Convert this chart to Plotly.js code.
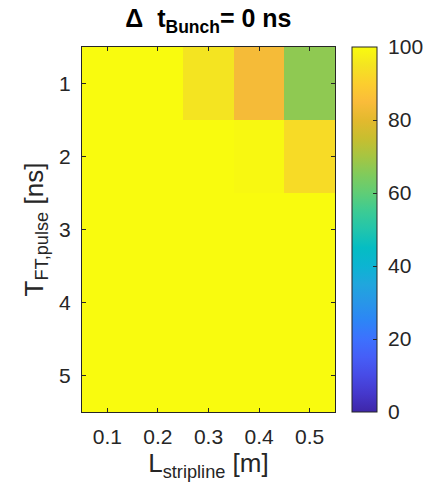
<!DOCTYPE html>
<html>
<head>
<meta charset="utf-8">
<script src="https://cdn.plot.ly/plotly-3.0.1.min.js"></script>
<style>html,body{margin:0;padding:0;background:#fff;}#chart{width:428px;height:490px;}</style>
</head>
<body>
<div id="chart"></div>
<script>
// Data
const stripLength = [0.1, 0.2, 0.3, 0.4, 0.5];   // L_stripline [m]
const pulseLength = [1, 2, 3, 4, 5];             // T_FT,pulse [ns]
const row1 = [100, 100, 95, 84, 67];
const row2 = [100, 100, 100, 99.3, 93];
const row3 = [100, 100, 100, 100, 100];
const row4 = [100, 100, 100, 100, 100];
const row5 = [100, 100, 100, 100, 100];
const xTickLabels = ['0.1', '0.2', '0.3', '0.4', '0.5'];
const yTickLabels = ['1', '2', '3', '4', '5'];
const cbTicks = [0, 20, 40, 60, 80, 100];

// MATLAB parula (approximation)
const parula = [
  [0.00, 'rgb(62,38,168)'],
  [0.05, 'rgb(69,56,204)'],
  [0.10, 'rgb(71,75,230)'],
  [0.15, 'rgb(70,94,247)'],
  [0.20, 'rgb(61,113,254)'],
  [0.25, 'rgb(45,133,246)'],
  [0.30, 'rgb(40,150,232)'],
  [0.35, 'rgb(32,166,221)'],
  [0.40, 'rgb(12,180,210)'],
  [0.45, 'rgb(5,189,195)'],
  [0.50, 'rgb(34,197,172)'],
  [0.55, 'rgb(60,203,148)'],
  [0.60, 'rgb(96,205,118)'],
  [0.65, 'rgb(128,203,92)'],
  [0.70, 'rgb(166,197,66)'],
  [0.75, 'rgb(200,190,47)'],
  [0.80, 'rgb(227,185,46)'],
  [0.85, 'rgb(250,188,58)'],
  [0.90, 'rgb(252,206,46)'],
  [0.95, 'rgb(244,228,33)'],
  [1.00, 'rgb(249,251,14)']
];

const FONT = 'Liberation Sans, Arial, sans-serif';
const axisCommon = {
  showline: true, mirror: 'ticks', linecolor: '#262626', linewidth: 1,
  ticks: 'inside', ticklen: 4, tickcolor: '#262626',
  showgrid: false, zeroline: false, automargin: false,
  tickfont: {family: FONT, size: 21, color: '#262626'}
};

const trace = {
  type: 'heatmap',
  x: stripLength,
  y: pulseLength,
  z: [row1, row2, row3, row4, row5],
  zmin: 0, zmax: 100,
  colorscale: parula,
  colorbar: {
    x: 1.067, xanchor: 'left', xpad: 0,
    y: 0.5, yanchor: 'middle', len: 1, lenmode: 'fraction', ypad: 0,
    thickness: 25, thicknessmode: 'pixels',
    outlinecolor: '#262626', outlinewidth: 1,
    tickvals: cbTicks, ticktext: cbTicks.map(v => '\u00a0' + v),
    ticks: 'inside', ticklen: 4, tickcolor: '#262626',
    tickfont: {family: FONT, size: 21, color: '#262626'}
  },
  hoverinfo: 'x+y+z'
};

const layout = {
  width: 428, height: 490,
  margin: {l: 82, r: 93, t: 47, b: 78, autoexpand: false},
  paper_bgcolor: '#fff', plot_bgcolor: '#fff',
  title: {
    text: '<b>Δ\u00a0 t<sub>Bunch</sub>= 0 ns</b>',
    font: {family: FONT, size: 25, color: '#000'},
    x: 0.487, xanchor: 'center', y: 0.962, yanchor: 'middle'
  },
  xaxis: Object.assign({}, axisCommon, {
    range: [0.05, 0.55],
    tickvals: stripLength, ticktext: xTickLabels,
    ticklabelstandoff: 6,
    title: {text: 'L<sub>stripline</sub> [m]', standoff: 4,
      font: {family: FONT, size: 26, color: '#262626'}}
  }),
  yaxis: Object.assign({}, axisCommon, {
    range: [5.5, 0.5],
    tickvals: pulseLength, ticktext: yTickLabels,
    ticklabelstandoff: 6,
    title: {text: 'T<sub>FT,pulse</sub> [ns]', standoff: 8,
      font: {family: FONT, size: 26, color: '#262626'}}
  })
};

Plotly.newPlot('chart', [trace], layout, {displayModeBar: false, staticPlot: true});
</script>
</body>
</html>
